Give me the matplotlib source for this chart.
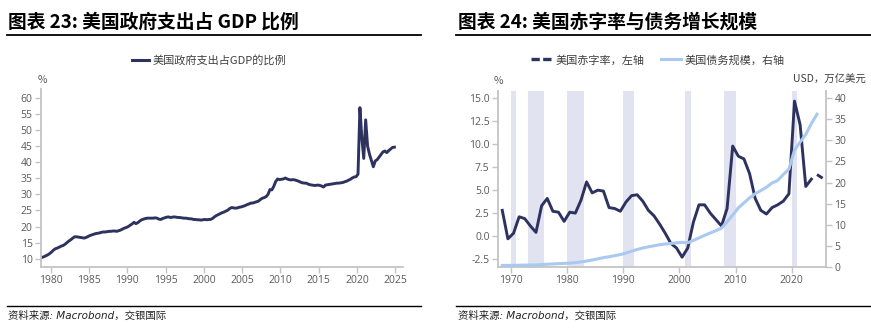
import matplotlib
matplotlib.use('Agg')
import matplotlib.pyplot as plt
from matplotlib.lines import Line2D
from matplotlib.ticker import FormatStrFormatter
import numpy as np

CJK = ['Noto Sans CJK SC', 'DejaVu Sans']
plt.rcParams['font.family'] = CJK

# ---------------- data: chart 23 (quarterly, from 1978Q4) ----------------
gov_start_year, gov_start_q = 1978, 4
gov_share = [
    10.4,
    10.6, 10.9, 11.2, 11.6,   # 1979
    12.1, 12.7, 13.1, 13.3,   # 1980
    13.6, 13.9, 14.1, 14.5,   # 1981
    15.0, 15.5, 15.9, 16.4,   # 1982
    16.8, 16.8, 16.7, 16.6,   # 1983
    16.5, 16.4, 16.6, 16.9,   # 1984
    17.2, 17.4, 17.6, 17.8,   # 1985
    17.9, 18.0, 18.2, 18.3,   # 1986
    18.3, 18.4, 18.5, 18.5,   # 1987
    18.6, 18.6, 18.5, 18.7,   # 1988
    18.9, 19.2, 19.5, 19.7,   # 1989
    20.0, 20.4, 20.8, 21.3,   # 1990
    20.9, 21.2, 21.7, 22.1,   # 1991
    22.3, 22.5, 22.6, 22.6,   # 1992
    22.6, 22.6, 22.7, 22.6,   # 1993
    22.3, 22.2, 22.5, 22.7,   # 1994
    22.9, 23.0, 22.8, 22.9,   # 1995
    23.0, 22.9, 22.8, 22.8,   # 1996
    22.7, 22.6, 22.6, 22.5,   # 1997
    22.4, 22.4, 22.2, 22.2,   # 1998
    22.1, 22.1, 22.0, 22.1,   # 1999
    22.2, 22.1, 22.2, 22.2,   # 2000
    22.5, 23.0, 23.4, 23.7,   # 2001
    24.0, 24.3, 24.5, 24.8,   # 2002
    25.1, 25.6, 25.9, 25.8,   # 2003
    25.7, 25.8, 26.0, 26.1,   # 2004
    26.3, 26.5, 26.8, 27.0,   # 2005
    27.3, 27.3, 27.5, 27.7,   # 2006
    27.9, 28.4, 28.8, 29.0,   # 2007
    29.3, 30.0, 31.5, 31.4,   # 2008
    32.5, 34.0, 34.8, 34.6,   # 2009
    34.7, 34.8, 35.1, 34.8,   # 2010
    34.6, 34.5, 34.6, 34.5,   # 2011
    34.3, 34.1, 33.8, 33.6,   # 2012
    33.5, 33.5, 33.2, 33.0,   # 2013
    32.9, 32.8, 32.8, 32.9,   # 2014
    32.8, 32.6, 32.3, 32.9,   # 2015
    33.0, 33.1, 33.2, 33.3,   # 2016
    33.4, 33.5, 33.5, 33.6,   # 2017
    33.7, 33.9, 34.1, 34.4,   # 2018
    34.7, 35.1, 35.4, 35.5,   # 2019
    36.3, 57.0, 47.5, 41.2,   # 2020
    53.2, 45.0, 42.5, 40.5,   # 2021
    38.6, 40.4, 40.8, 41.6,   # 2022
    42.4, 43.2, 43.5, 43.0,   # 2023
    43.6, 44.1, 44.6, 44.7,   # 2024
]
gov_xticks = [1980, 1985, 1990, 1995, 2000, 2005, 2010, 2015, 2020, 2025]
gov_yticks = [10, 15, 20, 25, 30, 35, 40, 45, 50, 55, 60]

# ---------------- data: chart 24 (annual) ----------------
def_years = list(range(1968, 2024))
deficit = [2.8, -0.3, 0.3, 2.1, 1.9, 1.1, 0.4, 3.3, 4.1, 2.7,
           2.6, 1.6, 2.6, 2.5, 3.9, 5.9, 4.7, 5.0, 4.9, 3.1,
           3.0, 2.7, 3.7, 4.4, 4.5, 3.8, 2.8, 2.2, 1.3, 0.3,
           -0.8, -1.3, -2.3, -1.3, 1.5, 3.4, 3.4, 2.5, 1.8, 1.1,
           3.0, 9.8, 8.7, 8.4, 6.8, 4.1, 2.8, 2.4, 3.1, 3.4,
           3.8, 4.6, 14.7, 12.1, 5.4, 6.2]
proj_years = [2024, 2025]
deficit_proj = [6.7, 6.3]

debt_years = list(range(1968, 2025))
debt = [0.37, 0.38, 0.40, 0.42, 0.45, 0.47, 0.49, 0.58, 0.65, 0.72,
        0.79, 0.85, 0.93, 1.03, 1.20, 1.41, 1.66, 1.95, 2.21, 2.43,
        2.68, 2.95, 3.30, 3.75, 4.15, 4.50, 4.78, 5.02, 5.28, 5.45,
        5.58, 5.72, 5.85, 5.75, 6.30, 6.90, 7.50, 8.05, 8.60, 9.20,
        10.70, 12.30, 14.00, 15.20, 16.40, 17.35, 18.10, 18.90, 19.90, 20.50,
        21.90, 23.20, 27.70, 29.60, 31.40, 34.00, 36.20]

rec_start = [1970, 1973, 1980, 1990, 2001, 2008, 2020]
rec_end = [1971, 1976, 1983, 1992, 2002, 2010, 2021]

def_xticks = [1970, 1980, 1990, 2000, 2010, 2020]
def_yticks = [-2.5, 0.0, 2.5, 5.0, 7.5, 10.0, 12.5, 15.0]
debt_yticks = [0, 5, 10, 15, 20, 25, 30, 35, 40]

# ---------------- styling ----------------
NAVY = '#2D335E'
LIGHT = '#A9C9F0'
BAND = '#E2E3F0'
SPINE = '#C4C4C4'
TXT = '#5A5A5A'
TICKFONT = 'Open Sans'

W, H = 871, 335
fig = plt.figure(figsize=(W / 100, H / 100), dpi=100)
fig.patch.set_facecolor('white')


def fx(px):
    return px / W


def fy(py):
    return 1 - py / H


def style_ticks(ax, which_axes):
    ax.tick_params(axis='both', direction='out', length=4, width=1,
                   color=SPINE, labelcolor=TXT, labelsize=7.5, pad=2)
    for lab in ax.get_xticklabels() + ax.get_yticklabels():
        lab.set_fontfamily(TICKFONT)
    for s in ['top', 'right', 'left', 'bottom']:
        ax.spines[s].set_visible(s in which_axes)
        ax.spines[s].set_color(SPINE)
        ax.spines[s].set_linewidth(1.3)


# ---- Chart 23 ----
gov_x = []
y, q = gov_start_year, gov_start_q
for _ in gov_share:
    gov_x.append(y + (q - 0.5) / 4)
    q += 1
    if q > 4:
        q = 1
        y += 1

ax1 = fig.add_axes([fx(41), fy(267), fx(403) - fx(41), fy(89) - fy(267)])
ax1.plot(gov_x, gov_share, color=NAVY, lw=2.1, solid_joinstyle='round')
ax1.set_xlim(1978.73, 2026.0)
ax1.set_ylim(7.4, 62.8)
ax1.set_xticks(gov_xticks)
ax1.set_yticks(gov_yticks)
style_ticks(ax1, ['left', 'bottom'])

fig.text(fx(42), fy(80), '%', ha='center', va='center', fontsize=7.5, color=TXT)

h1 = [Line2D([], [], color=NAVY, lw=2.2)]
fig.legend(h1, ['美国政府支出占GDP的比例'], loc='center', bbox_to_anchor=(fx(209), fy(60)),
           frameon=False, fontsize=8, handlelength=1.5, handletextpad=0.35,
           labelcolor='#404040')

# ---- Chart 24 ----
ax2 = fig.add_axes([fx(498), fy(267), fx(826) - fx(498), fy(91) - fy(267)])
for s, e in zip(rec_start, rec_end):
    ax2.axvspan(s, e, color=BAND, lw=0, zorder=0)
dx = np.array(def_years) + 0.5
ax2.plot(dx, deficit, color=NAVY, lw=2.1, zorder=3)
ax2.plot(np.array(proj_years) + 0.5, deficit_proj, color=NAVY, lw=2.1,
         ls=(0, (3, 1.5)), zorder=3)
ax2.set_xlim(1967.74, 2026.1)
ax2.set_ylim(-3.37, 15.8)
ax2.set_xticks(def_xticks)
ax2.set_yticks(def_yticks)
ax2.yaxis.set_major_formatter(FormatStrFormatter('%.1f'))
style_ticks(ax2, ['left', 'bottom'])

ax3 = ax2.twinx()
ax3.plot(np.array(debt_years) + 0.5, debt, color=LIGHT, lw=2.2, zorder=2)
ax3.set_ylim(0, 41.7)
ax3.set_yticks(debt_yticks)
style_ticks(ax3, ['right'])
ax3.spines['right'].set_visible(True)
ax3.spines['right'].set_color(SPINE)

fig.text(fx(498), fy(81), '%', ha='center', va='center', fontsize=7.5, color=TXT)
fig.text(fx(866), fy(80), 'USD，万亿美元', ha='right', va='center', fontsize=7.5, color='#404040')

h2 = [Line2D([], [], color=NAVY, lw=2.4, ls=(0, (2.5, 1))),
      Line2D([], [], color=LIGHT, lw=2.2)]
fig.legend(h2, ['美国赤字率，左轴', '美国债务规模，右轴'], loc='center',
           bbox_to_anchor=(fx(658), fy(60)), ncol=2, frameon=False, fontsize=8,
           handlelength=1.8, handletextpad=0.35, columnspacing=1.5,
           labelcolor='#404040')

# ---- titles, rules, sources ----
fig.text(fx(8), fy(22), '图表 23: 美国政府支出占 GDP 比例', ha='left', va='center',
         fontsize=13.5, fontweight='bold', color='black')
fig.text(fx(458), fy(22), '图表 24: 美国赤字率与债务增长规模', ha='left', va='center',
         fontsize=13.5, fontweight='bold', color='black')

for x0, x1 in [(7, 421), (456, 871)]:
    fig.add_artist(Line2D([fx(x0), fx(x1)], [fy(35), fy(35)], color='black', lw=1.3))
    fig.add_artist(Line2D([fx(x0), fx(x1)], [fy(305.5), fy(305.5)], color='black', lw=1.0))

src_family = ['DejaVu Sans', 'Noto Sans CJK SC']
fig.text(fx(8), fy(316), '资料来源: Macrobond，交银国际', ha='left', va='center',
         fontsize=7.5, style='italic', family=src_family, color='#222222')
fig.text(fx(458), fy(316), '资料来源: Macrobond，交银国际', ha='left', va='center',
         fontsize=7.5, style='italic', family=src_family, color='#222222')

fig.savefig('out.png', dpi=100, facecolor='white')
